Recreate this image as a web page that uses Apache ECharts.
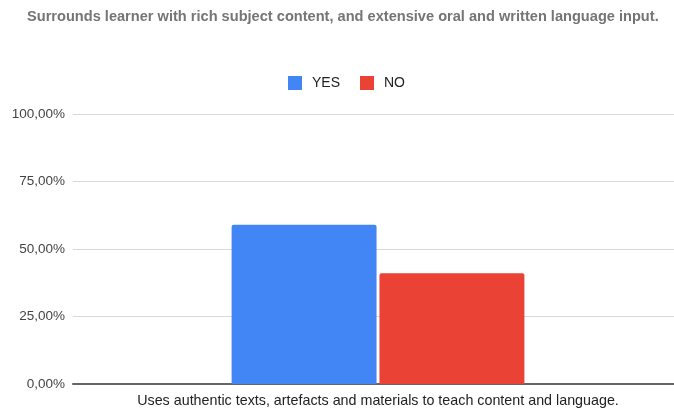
<!DOCTYPE html>
<html>
<head>
<meta charset="utf-8">
<script src="https://cdn.jsdelivr.net/npm/echarts@6/dist/echarts.min.js"></script>
<style>
  html, body { margin: 0; padding: 0; background: #fff; overflow: hidden; }
  /* plot area runs slightly past the right edge of the window */
  #chart { width: 692px; height: 414px; }
</style>
</head>
<body>
<div id="chart"></div>
<script>
// Survey item and answer shares (percent)
const chartTitle = 'Surrounds learner with rich subject content, and extensive oral and written language input.';
const categories = ['Uses authentic texts, artefacts and materials to teach content and language.'];
const seriesNames = ['YES', 'NO'];
const yesValues = [59];
const noValues = [41];
const yTicks = { min: 0, max: 100, interval: 25 };
const colors = ['#4285F4', '#EA4335'];

const fmtPct = v => v.toFixed(2).replace('.', ',') + '%';

const chart = echarts.init(document.getElementById('chart'), null, { renderer: 'canvas' });
chart.setOption({
  animation: false,
  backgroundColor: '#ffffff',
  title: {
    text: chartTitle,
    left: 27,
    top: 9,
    padding: 0,
    textStyle: { fontFamily: 'Liberation Sans, Arial', fontSize: 14.6, fontWeight: 'bold', color: '#757575' }
  },
  legend: {
    data: seriesNames,
    top: 76,
    left: 288,
    padding: 0,
    itemWidth: 14,
    itemHeight: 14,
    itemGap: 20,
    icon: 'rect',
    textStyle: { fontFamily: 'Liberation Sans, Arial', fontSize: 14, color: '#222', padding: [0, 0, 0, 5] }
  },
  grid: { left: 73, top: 114, width: 610, height: 270, containLabel: false },
  xAxis: {
    type: 'category',
    data: categories,
    axisTick: { show: false },
    axisLine: { lineStyle: { color: '#666', width: 2 } },
    axisLabel: { fontFamily: 'Liberation Sans, Arial', fontSize: 14.3, color: '#222', margin: 10 }
  },
  yAxis: {
    type: 'value',
    min: yTicks.min,
    max: yTicks.max,
    interval: yTicks.interval,
    axisLine: { show: false },
    axisTick: { show: false },
    splitLine: { lineStyle: { color: '#d9d9d9', width: 1 } },
    axisLabel: { fontFamily: 'Liberation Sans, Arial', fontSize: 13.5, color: '#444', margin: 8, formatter: fmtPct }
  },
  series: [
    {
      name: seriesNames[0], type: 'bar', data: yesValues,
      barCategoryGap: '52%', barGap: '2%',
      itemStyle: { color: colors[0], borderRadius: [2, 2, 0, 0] }
    },
    {
      name: seriesNames[1], type: 'bar', data: noValues,
      itemStyle: { color: colors[1], borderRadius: [2, 2, 0, 0] }
    }
  ]
});
</script>
</body>
</html>
